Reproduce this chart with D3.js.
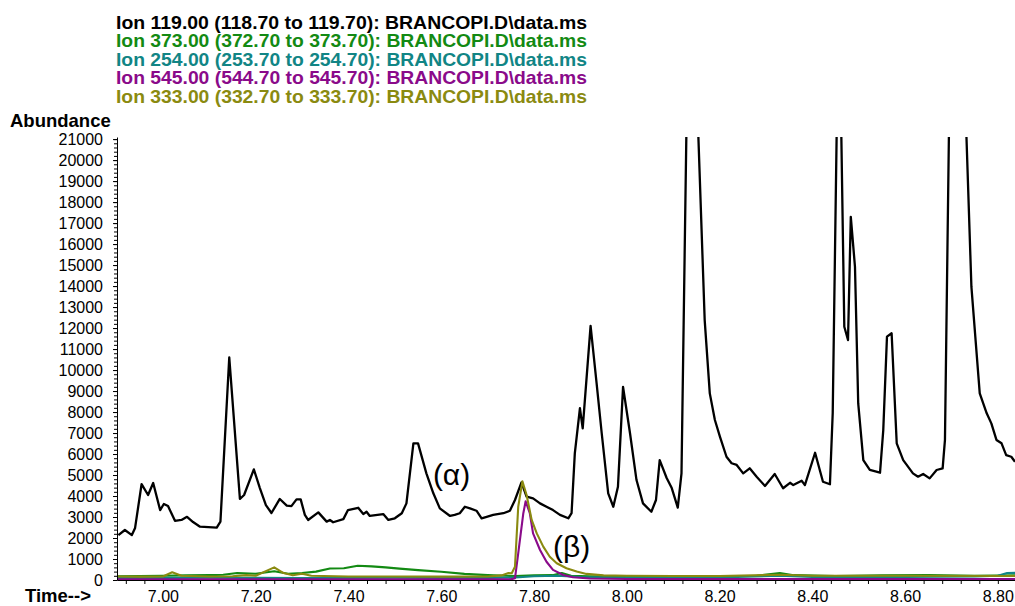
<!DOCTYPE html>
<head>
<meta charset="utf-8">
<style>
  body { margin: 0; background: white; }
  svg { background: white; font-family: 'Liberation Sans', Arial, sans-serif; }
  .axis text { font-size: 16px; fill: #000; }
  .axis path, .axis line { stroke: #000; }
  .legend { font-size: 18.5px; font-weight: bold; }
  .axisTitle { font-size: 18.5px; font-weight: bold; }
  .note { font-size: 30px; }
</style>
</head>
<body>
<script src="https://d3js.org/d3.v7.min.js"></script>
<script>

// ion 119 trace (black), [time min, abundance]
const ion119 = [
  [6.904,2140],[6.918,2380],[6.933,2140],[6.940,2480],[6.954,4570],[6.968,4050],[6.979,4620],[6.994,3330],
  [7.002,3620],[7.011,3520],[7.026,2820],[7.040,2860],[7.052,3010],[7.065,2760],[7.080,2540],[7.116,2490],
  [7.124,2780],[7.143,10600],[7.166,3860],[7.175,4050],[7.196,5270],[7.209,4380],[7.222,3570],[7.234,3190],
  [7.252,3860],[7.267,3540],[7.277,3520],[7.288,3840],[7.297,3840],[7.306,3100],[7.313,2860],[7.335,3220],
  [7.353,2780],[7.360,2860],[7.367,2750],[7.389,2900],[7.399,3330],[7.421,3440],[7.432,3140],[7.439,3250],
  [7.446,3050],[7.475,3140],[7.486,2860],[7.500,2940],[7.515,3180],[7.525,3650],[7.540,6510],[7.550,6510],
  [7.568,5080],[7.583,4130],[7.597,3410],[7.619,3050],[7.629,3100],[7.640,3180],[7.651,3490],[7.662,3410],
  [7.676,3300],[7.687,2940],[7.698,3010],[7.712,3100],[7.734,3180],[7.748,3300],[7.759,3810],[7.773,4650],
  [7.784,3970],[7.798,3890],[7.813,3650],[7.827,3490],[7.841,3330],[7.856,3100],[7.874,2940],[7.881,3180],
  [7.888,6030],[7.899,8180],[7.905,7220],[7.922,12100],[7.935,9370],[7.946,6990],[7.960,4130],[7.971,3490],
  [7.981,4440],[7.992,9200],[8.007,6990],[8.021,4760],[8.035,3650],[8.053,3250],[8.063,3810],[8.071,5710],
  [8.086,4860],[8.097,4380],[8.110,3450],[8.118,5080],[8.129,22000],[8.153,22000],[8.168,12380],[8.179,8890],
  [8.190,7620],[8.201,6820],[8.215,5870],[8.226,5560],[8.237,5480],[8.251,5080],[8.265,5320],[8.280,4920],
  [8.298,4480],[8.319,5050],[8.337,4370],[8.352,4630],[8.359,4520],[8.377,4730],[8.384,4520],[8.406,6060],
  [8.423,4680],[8.438,4560],[8.444,7940],[8.453,22000],[8.462,22000],[8.469,12060],[8.477,11430],[8.483,17300],
  [8.492,14920],[8.499,8410],[8.510,5710],[8.524,5240],[8.546,5110],[8.553,7140],[8.561,11590],[8.571,11750],
  [8.582,6510],[8.596,5710],[8.617,5080],[8.628,4920],[8.639,5050],[8.653,4840],[8.668,5240],[8.681,5320],
  [8.686,6670],[8.695,22000],[8.731,22000],[8.743,13970],[8.761,8890],[8.776,7940],[8.786,7460],[8.797,6670],
  [8.808,6510],[8.818,5950],[8.829,5870],[8.837,5630]
];

// ion 373 (green)
const ion373 = [
  [6.90,180],[6.95,190],[7.00,200],[7.05,220],[7.10,230],[7.13,250],[7.16,330],[7.20,300],[7.24,420],
  [7.27,300],[7.30,330],[7.33,400],[7.36,550],[7.39,560],[7.42,680],[7.45,650],[7.48,600],[7.51,540],
  [7.55,470],[7.60,390],[7.65,290],[7.70,230],[7.74,200],[7.76,190],[7.80,220],[7.84,230],[7.86,330],
  [7.88,200],[7.92,180],[8.00,170],[8.10,170],[8.20,180],[8.28,200],[8.33,330],[8.36,230],[8.45,190],
  [8.55,220],[8.65,230],[8.75,200],[8.84,220]
];

// ion 254 (teal)
const ion254 = [
  [6.90,90],[7.00,100],[7.10,110],[7.20,100],[7.30,90],[7.40,100],[7.50,110],[7.60,100],[7.70,100],
  [7.76,120],[7.80,180],[7.85,200],[7.90,140],[8.00,120],[8.20,120],[8.33,200],[8.40,140],[8.60,150],
  [8.75,170],[8.80,200],[8.82,330],[8.84,340]
];

// ion 545 (purple)
const ion545 = [
  [6.90,30],[7.20,30],[7.50,30],[7.750,30],[7.759,80],[7.766,1270],[7.777,3180],[7.782,3750],[7.791,3180],
  [7.798,2220],[7.813,1430],[7.827,870],[7.841,480],[7.863,240],[7.884,130],[7.92,70],[8.00,50],
  [8.40,40],[8.84,40]
];

// ion 333 (olive)
const ion333 = [
  [6.90,170],[6.95,160],[7.00,170],[7.02,370],[7.04,200],[7.10,170],[7.15,180],[7.18,230],[7.20,200],
  [7.24,600],[7.26,330],[7.28,230],[7.30,300],[7.32,200],[7.40,170],[7.50,170],[7.60,160],[7.70,170],
  [7.73,220],[7.745,330],[7.752,320],[7.759,630],[7.766,3490],[7.775,4700],[7.784,4050],[7.795,2860],
  [7.806,2220],[7.820,1590],[7.834,1110],[7.849,800],[7.870,560],[7.892,400],[7.913,290],[7.95,220],
  [8.00,200],[8.10,190],[8.20,190],[8.33,250],[8.40,200],[8.60,200],[8.84,190]
];

const legendLabels = [
  'Ion 119.00 (118.70 to 119.70): BRANCOPI.D\\data.ms',
  'Ion 373.00 (372.70 to 373.70): BRANCOPI.D\\data.ms',
  'Ion 254.00 (253.70 to 254.70): BRANCOPI.D\\data.ms',
  'Ion 545.00 (544.70 to 545.70): BRANCOPI.D\\data.ms',
  'Ion 333.00 (332.70 to 333.70): BRANCOPI.D\\data.ms'
];
const colors = ['#000000', '#138a13', '#118585', '#8a0a8a', '#8a8a10'];

const xMajor = d3.range(7.0, 8.81, 0.2);
const xMinor = d3.range(6.92, 8.84, 0.04);
const yMajor = d3.range(0, 21001, 1000);
const yMinor = d3.range(0, 21001, 200);

// DIMENSIONS
const width = 1015, height = 606;
const margin = {top: 137, right: 0, bottom: 26, left: 117};

const svg = d3.select('body').append('svg')
  .attr('width', width)
  .attr('height', height);

// SCALES
const x = d3.scaleLinear([6.901, 8.837], [margin.left, width - margin.right]);
const y = d3.scaleLinear([0, 21100], [height - margin.bottom, margin.top]);

svg.append('clipPath').attr('id', 'plotClip')
  .append('rect')
  .attr('x', margin.left)
  .attr('y', margin.top)
  .attr('width', width - margin.left)
  .attr('height', height - margin.bottom - margin.top + 3);

const line = d3.line().x(d => x(d[0])).y(d => y(d[1]));

// TRACES
const traces = [ion119, ion373, ion254, ion545, ion333];
const plot = svg.append('g').attr('clip-path', 'url(#plotClip)');
traces.forEach((tr, i) => {
  plot.append('path')
    .datum(tr)
    .attr('d', line)
    .attr('fill', 'none')
    .attr('stroke', colors[i])
    .attr('stroke-width', i == 0 ? 2.3 : 2.1)
    .attr('stroke-linejoin', 'round');
});

// AXES
svg.append('g')
  .attr('class', 'axis')
  .attr('transform', `translate(${margin.left},0)`)
  .call(d3.axisLeft(y).tickValues(yMinor).tickSize(3).tickSizeOuter(0).tickFormat(''));

svg.append('g')
  .attr('class', 'axis')
  .attr('transform', `translate(${margin.left},0)`)
  .call(d3.axisLeft(y).tickValues(yMajor).tickSize(4).tickSizeOuter(0).tickPadding(10).tickFormat(d3.format('d')))
  .call(g => g.select('.domain').remove());

svg.append('g')
  .attr('class', 'axis')
  .attr('transform', `translate(0,${height - margin.bottom})`)
  .call(d3.axisBottom(x).tickValues(xMinor).tickSize(4).tickSizeOuter(0).tickFormat(''));

svg.append('g')
  .attr('class', 'axis')
  .attr('transform', `translate(0,${height - margin.bottom})`)
  .call(d3.axisBottom(x).tickValues(xMajor).tickSize(0).tickSizeOuter(0).tickPadding(11).tickFormat(d3.format('.2f')))
  .call(g => g.select('.domain').remove());

// AXIS TITLES
svg.append('text').attr('class', 'axisTitle')
  .attr('x', 10).attr('y', 127).text('Abundance');

svg.append('text').attr('class', 'axisTitle')
  .attr('x', 25).attr('y', 602).text('Time-->');

// LEGEND
svg.selectAll('.legend')
  .data(legendLabels)
  .join('text')
  .attr('class', 'legend')
  .attr('x', 116)
  .attr('y', (d, i) => 29 + i * 18.4)
  .attr('textLength', 471)
  .attr('lengthAdjust', 'spacingAndGlyphs')
  .attr('fill', (d, i) => colors[i])
  .text(d => d);

// ANNOTATIONS
svg.append('text').attr('class', 'note')
  .attr('x', x(7.582)).attr('y', y(4520)).text('(α)');

svg.append('text').attr('class', 'note')
  .attr('x', x(7.841)).attr('y', y(1100)).text('(β)');

</script>
</body>
